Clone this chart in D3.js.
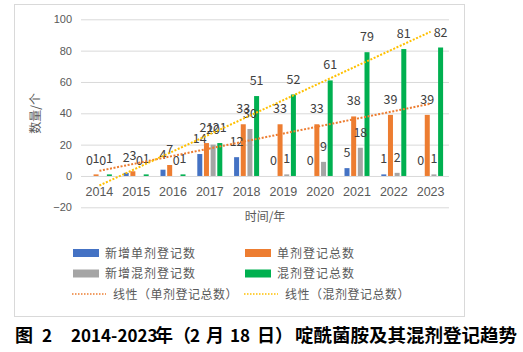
<!DOCTYPE html>
<html>
<head>
<meta charset="utf-8">
<script src="https://cdn.jsdelivr.net/npm/d3@7"></script>
<style>
  body { margin: 0; background: #fff; }
  svg { display: block; font-family: "Noto Sans CJK SC", "Liberation Sans", sans-serif; }
</style>
</head>
<body>
<svg width="523" height="352"></svg>
<script>
// 数据
const years = ["2014", "2015", "2016", "2017", "2018", "2019", "2020", "2021", "2022", "2023"];
const newSingle = [0, 2, 4, 14, 12, 0, 0, 5, 1, 0];
const totalSingle = [1, 3, 7, 21, 33, 33, 33, 38, 39, 39];
const newMix = [0, 0, 0, 20, 30, 1, 9, 18, 2, 1];
const totalMix = [1, 1, 1, 21, 51, 52, 61, 79, 81, 82];
const seriesNames = ["新增单剂登记数", "单剂登记总数", "新增混剂登记数", "混剂登记总数"];
const trendNames = ["线性（单剂登记总数）", "线性（混剂登记总数）"];
const yTicks = [-20, 0, 20, 40, 60, 80, 100];

const colors = ["#4472C4", "#ED7D31", "#A5A5A5", "#00B050"];
const trendColors = ["#ED7D31", "#FFC000"];
const allSeries = [newSingle, totalSingle, newMix, totalMix];

const svg = d3.select("svg");
const plot = { left: 81, right: 449, top: 19.3, bottom: 207.3 };

svg.append("rect")
    .attr("width", 523).attr("height", 352).attr("fill", "#fff");

// 外框
svg.append("rect")
    .attr("x", 14.5).attr("y", 4.5)
    .attr("width", 450).attr("height", 312)
    .attr("fill", "none").attr("stroke", "#D9D9D9");

const y = d3.scaleLinear().domain([-20, 100]).range([plot.bottom, plot.top]);
const x0 = d3.scaleBand().domain(years).range([plot.left, plot.right]);
const groupW = 25;
const x1 = d3.scaleBand().domain(d3.range(4)).range([0, groupW]).paddingInner(0.25);

// 网格线 + y轴
const yAxis = svg.append("g")
    .attr("transform", `translate(${plot.left},0)`)
    .call(d3.axisLeft(y).tickValues(yTicks).tickSize(-(plot.right - plot.left)).tickPadding(9));
yAxis.select(".domain").remove();
yAxis.selectAll("line").attr("stroke", "#D9D9D9");
yAxis.selectAll("text").attr("fill", "#595959").style("font-size", "11px")
    .style("font-family", "Liberation Sans, sans-serif");

// x轴
const xAxis = svg.append("g")
    .attr("transform", `translate(0,${y(0)})`)
    .call(d3.axisBottom(x0).tickSize(0).tickPadding(11));
xAxis.select(".domain").remove();
xAxis.selectAll("text").attr("fill", "#595959").style("font-size", "12.5px");

// 柱子
const rows = years.map((yr, i) => ({ year: yr, values: allSeries.map(s => s[i]) }));
const groups = svg.selectAll(".grp")
    .data(rows)
    .enter().append("g")
    .attr("class", "grp")
    .attr("transform", d => `translate(${x0(d.year) + (x0.bandwidth() - groupW) / 2},0)`);

groups.selectAll("rect")
    .data(d => d.values.map((v, k) => ({ v, k })))
    .enter().append("rect")
    .attr("x", d => x1(d.k))
    .attr("width", x1.bandwidth())
    .attr("y", d => y(Math.max(0, d.v)))
    .attr("height", d => Math.abs(y(d.v) - y(0)))
    .attr("fill", d => colors[d.k]);

// 趋势线 (线性回归)
function linFit(vals) {
    const xs = vals.map((_, i) => i + 1);
    const mx = d3.mean(xs), my = d3.mean(vals);
    const b = d3.sum(xs, (xv, i) => (xv - mx) * (vals[i] - my)) / d3.sum(xs, xv => (xv - mx) ** 2);
    const a = my - b * mx;
    return xs.map(xv => a + b * xv);
}
const line = d3.line()
    .x((d, i) => x0(years[i]) + x0.bandwidth() / 2)
    .y(d => y(d));

[totalSingle, totalMix].forEach((s, j) => {
    svg.append("path")
        .attr("d", line(linFit(s)))
        .attr("fill", "none")
        .attr("stroke", trendColors[j])
        .attr("stroke-width", 2)
        .attr("stroke-dasharray", "2,1.6");
});

// 数据标签
groups.selectAll("text.lbl")
    .data(d => d.values.map((v, k) => ({ v, k })))
    .enter().append("text")
    .attr("class", "lbl")
    .attr("x", d => x1(d.k) + x1.bandwidth() / 2)
    .attr("y", d => y(d.v) - 11)
    .attr("text-anchor", "middle")
    .attr("fill", "#404040")
    .style("font-size", "12.5px")
    .text(d => d.v);

// 坐标轴标题
svg.append("text")
    .attr("x", (plot.left + plot.right) / 2).attr("y", 220.5)
    .attr("text-anchor", "middle")
    .attr("fill", "#595959")
    .style("font-size", "12px")
    .text("时间/年");

svg.append("text")
    .attr("transform", `translate(39.5,${(plot.top + plot.bottom) / 2}) rotate(-90)`)
    .attr("text-anchor", "middle")
    .attr("fill", "#595959")
    .style("font-size", "12px")
    .text("数量/个");

// 图例
const legendPos = [[73, 253], [245, 253], [73, 273.5], [245, 273.5]];
seriesNames.forEach((name, k) => {
    const [lx, ly] = legendPos[k];
    svg.append("rect")
        .attr("x", lx).attr("y", ly - 4)
        .attr("width", 26).attr("height", 8)
        .attr("fill", colors[k]);
    svg.append("text")
        .attr("x", lx + 32).attr("y", ly + 4.5)
        .attr("fill", "#595959")
        .style("font-size", "12px")
        .style("letter-spacing", "1px")
        .text(name);
});
const trendPos = [[72, 294], [244, 294]];
trendNames.forEach((name, j) => {
    const [lx, ly] = trendPos[j];
    svg.append("line")
        .attr("x1", lx).attr("x2", lx + 34)
        .attr("y1", ly).attr("y2", ly)
        .attr("stroke", trendColors[j])
        .attr("stroke-width", 1.5)
        .attr("stroke-dasharray", "1.5,1.5");
    svg.append("text")
        .attr("x", lx + 41).attr("y", ly + 4.5)
        .attr("fill", "#595959")
        .style("font-size", "12px")
        .style("letter-spacing", "0.5px")
        .text(name);
});

// 图题
const caption = svg.append("text")
    .attr("y", 342)
    .attr("fill", "#000")
    .style("font-weight", "bold");
[["图", 15, 18], ["2", 42, 17], ["2014-2023", 71, 17], ["年（", 155, 18], ["2", 190, 17],
 ["月", 206, 18], ["18", 230, 17], ["日）", 257, 18], ["啶酰菌胺及其混剂登记趋势", 295, 18.5]]
    .forEach(([t, tx, fs]) => {
        caption.append("tspan").attr("x", tx).style("font-size", fs + "px").text(t);
    });
</script>
</body>
</html>
